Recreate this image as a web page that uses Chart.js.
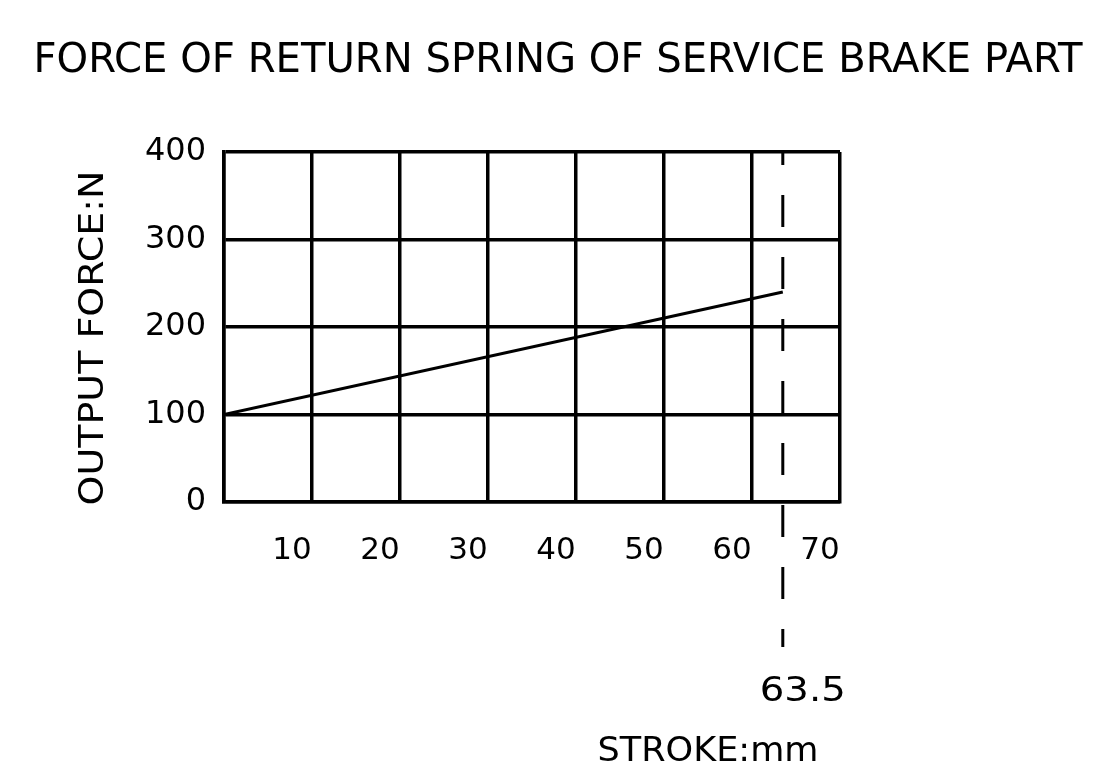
<!DOCTYPE html>
<html>
<head>
<meta charset="utf-8">
<script src="https://cdn.jsdelivr.net/npm/chart.js@4.4.1/dist/chart.umd.min.js"></script>
<style>
  html, body { margin: 0; padding: 0; background: #fff; }
  #wrap { width: 1115px; height: 764px; }
</style>
</head>
<body>
<div id="wrap"><canvas id="springChart" width="1115" height="764"></canvas></div>
<script>
// chart values
const strokeMm = [0, 63.5];
const forceN = [100, 240];
const strokeRange = [0, 70];
const forceRange = [0, 400];
const strokeStep = 10;
const forceStep = 100;
const fullStroke = 63.5;

const chartTitle = "FORCE OF RETURN SPRING OF SERVICE BRAKE PART";
const yTitle = "OUTPUT FORCE:N";
const xTitle = "STROKE:mm";

const FONT = '"DejaVu Sans", sans-serif';

// draw text squeezed to a given width (CAD style narrow lettering)
function fitText(ctx, text, cx, cy, size, width) {
  ctx.save();
  ctx.font = size + "px " + FONT;
  const w = ctx.measureText(text).width;
  ctx.translate(cx, cy);
  ctx.scale(width / w, 1);
  ctx.textAlign = "center";
  ctx.textBaseline = "alphabetic";
  ctx.fillText(text, 0, 0);
  ctx.restore();
}

const cadExtras = {
  id: "cadExtras",
  afterDraw(chart) {
    const ctx = chart.ctx;
    const area = chart.chartArea;
    const xs = chart.scales.x;
    ctx.fillStyle = "#000";

    // title
    fitText(ctx, chartTitle, 558, 72, 40, 1049);

    // y axis title (rotated)
    ctx.save();
    ctx.translate(103, 338);
    ctx.rotate(-Math.PI / 2);
    fitText(ctx, yTitle, 0, 0, 34, 335);
    ctx.restore();

    // x axis title
    fitText(ctx, xTitle, 708, 761, 33, 221);

    // full stroke marker
    const px = xs.getPixelForValue(fullStroke);
    ctx.save();
    ctx.strokeStyle = "#000";
    ctx.lineWidth = 3;
    ctx.setLineDash([32, 30]);
    ctx.lineDashOffset = 17;
    ctx.beginPath();
    ctx.moveTo(px, area.top - 2);
    ctx.lineTo(px, area.bottom + 145);
    ctx.stroke();
    ctx.restore();

    fitText(ctx, String(fullStroke), px + 20, 701, 33, 86);
  }
};

new Chart(document.getElementById("springChart"), {
  type: "line",
  data: {
    datasets: [{
      data: strokeMm.map((s, i) => ({ x: s, y: forceN[i] })),
      borderColor: "#000",
      borderWidth: 3,
      pointRadius: 0,
      tension: 0,
      fill: false
    }]
  },
  options: {
    responsive: false,
    animation: false,
    layout: { padding: { top: 152, right: 275, bottom: 0, left: 0 } },
    plugins: {
      legend: { display: false },
      tooltip: { enabled: false },
      title: { display: false }
    },
    scales: {
      x: {
        type: "linear",
        min: strokeRange[0],
        max: strokeRange[1],
        afterFit: s => { s.height = 262; },
        grid: { color: "#000", lineWidth: 3.5, drawTicks: false },
        border: { color: "#000", width: 3.5 },
        ticks: {
          stepSize: strokeStep,
          color: "#000",
          font: { family: FONT, size: 31 },
          padding: 30,
          labelOffset: -20,
          maxRotation: 0,
          callback: v => (v === 0 ? "" : v)
        }
      },
      y: {
        type: "linear",
        min: forceRange[0],
        max: forceRange[1],
        afterFit: s => { s.width = 224; },
        grid: { color: "#000", lineWidth: 3.5, drawTicks: false },
        border: { color: "#000", width: 3.5 },
        ticks: {
          stepSize: forceStep,
          color: "#000",
          font: { family: FONT, size: 32 },
          padding: 18
        }
      }
    }
  },
  plugins: [cadExtras]
});
</script>
</body>
</html>
